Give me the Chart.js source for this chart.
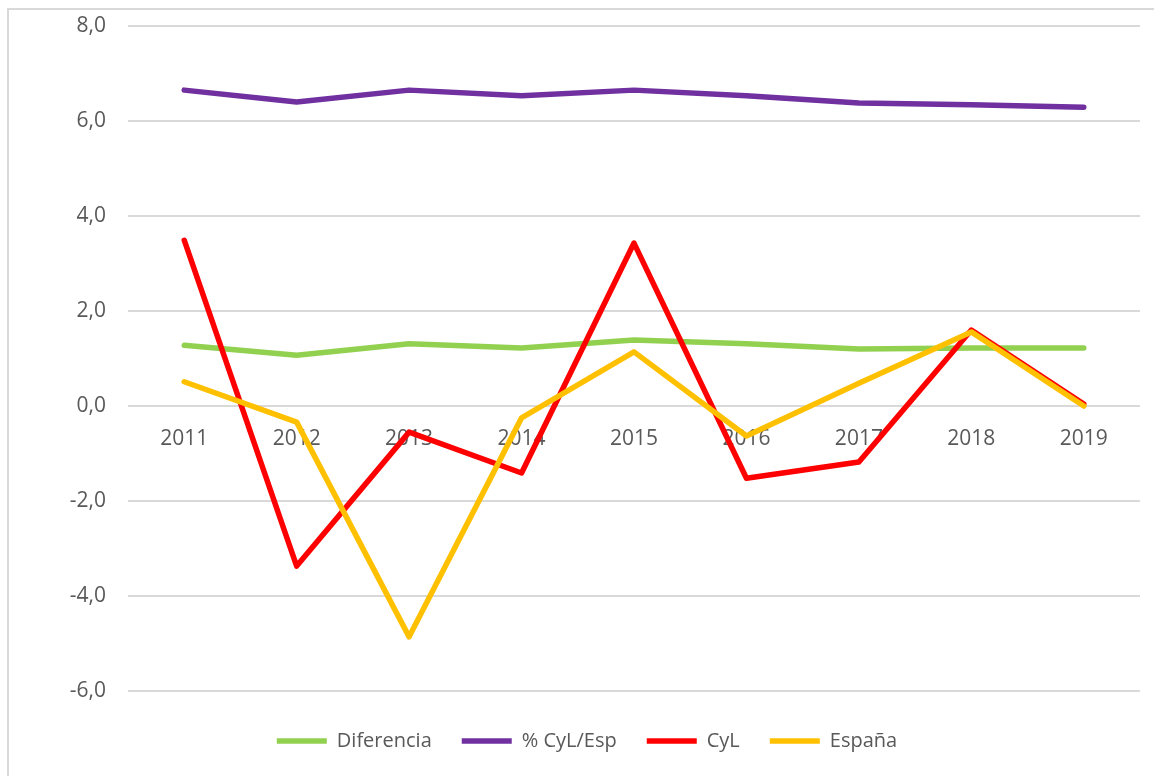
<!DOCTYPE html>
<html><head><meta charset="utf-8">
<script src="https://cdn.jsdelivr.net/npm/chart.js@4"></script>
<style>
html,body{margin:0;padding:0;background:#fff;}
#wrap{position:relative;width:1154px;height:776px;overflow:hidden;background:#fff;}
#frame{position:absolute;left:7px;top:8px;width:1200px;height:800px;border-left:2px solid #d9d9d9;border-top:2px solid #d9d9d9;}
canvas{position:absolute;left:0;top:0;}
</style></head><body>
<div id="wrap"><div id="frame"></div><canvas id="c" width="1154" height="776"></canvas></div>
<script>
const years = ['2011','2012','2013','2014','2015','2016','2017','2018','2019'];
const diferencia = [1.28, 1.07, 1.31, 1.22, 1.39, 1.31, 1.20, 1.22, 1.22];
const pctCyLEsp = [6.65, 6.40, 6.65, 6.53, 6.65, 6.53, 6.38, 6.34, 6.29];
const cyl = [3.49, -3.37, -0.55, -1.41, 3.43, -1.52, -1.18, 1.60, 0.04];
const espana = [0.51, -0.34, -4.86, -0.25, 1.14, -0.63, 0.48, 1.56, 0.00];
const yTicks = [-6, -4, -2, 0, 2, 4, 6, 8];

const textColor = '#595959';
const fontFam = "'Open Sans', sans-serif";
function ds(label, data, color, order) {
  return {label, data, borderColor: color, backgroundColor: color, borderWidth: 5.5,
    borderCapStyle: 'round', borderJoinStyle: 'round', pointRadius: 0, pointHoverRadius: 0,
    pointStyle: 'line', tension: 0, fill: false, order};
}
new Chart(document.getElementById('c'), {
  type: 'line',
  data: {
    labels: years,
    datasets: [
      ds('Diferencia', diferencia, '#92D050', 3),
      ds('% CyL/Esp', pctCyLEsp, '#7030A0', 2),
      ds('CyL', cyl, '#FF0000', 1),
      ds('España', espana, '#FFC000', 0)
    ]
  },
  options: {
    responsive: false, animation: false, devicePixelRatio: 1,
    layout: {padding: {left: 34, right: 14, top: 26, bottom: 15}},
    plugins: {
      tooltip: {enabled: false},
      legend: {
        position: 'bottom',
        title: {display: true, text: ' ', padding: 0, font: {size: 10, lineHeight: 1}},
        labels: {
          usePointStyle: true, pointStyleWidth: 50, boxHeight: 5,
          color: textColor, font: {family: fontFam, size: 20},
          padding: 30,
          sort: (a, b) => a.datasetIndex - b.datasetIndex
        }
      }
    },
    scales: {
      x: {
        position: {y: 0},
        offset: true,
        afterFit: (s) => { s.paddingTop = 0; s.paddingBottom = 0; },
        grid: {display: false, drawTicks: false},
        border: {display: false},
        ticks: {color: textColor, font: {family: fontFam, size: 21}, padding: 20, maxRotation: 0}
      },
      y: {
        min: -6, max: 8,
        afterFit: (s) => { s.width = 94; s.paddingTop = 0; s.paddingBottom = 0; },
        afterBuildTicks: (s) => { s.ticks = yTicks.map(v => ({value: v})); },
        grid: {color: '#d9d9d9', lineWidth: 2, drawTicks: false},
        border: {display: false},
        ticks: {color: textColor, font: {family: fontFam, size: 21}, padding: 22,
          callback: (v) => v.toFixed(1).replace('.', ',')}
      }
    }
  }
});
</script>
</body></html>
